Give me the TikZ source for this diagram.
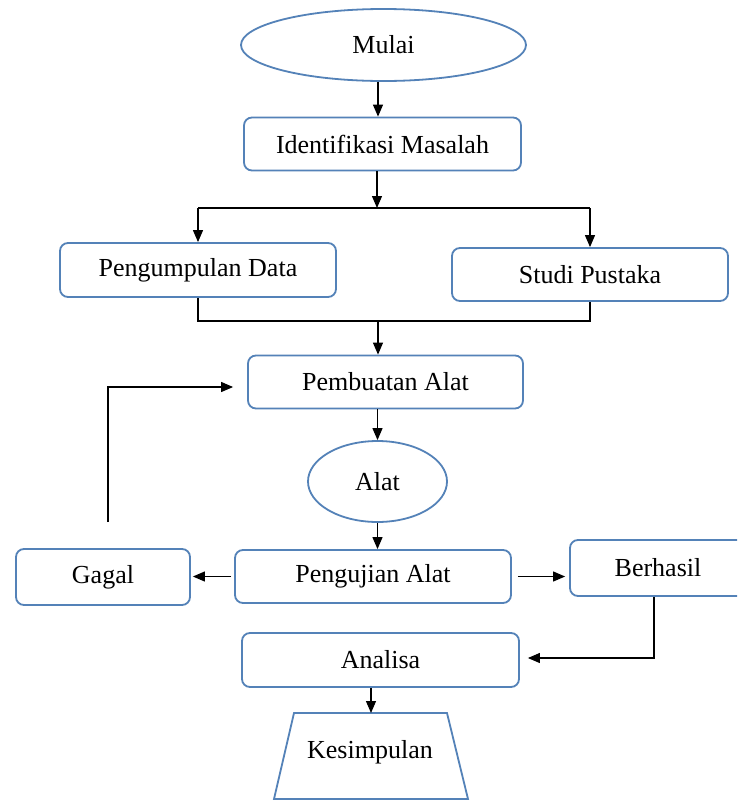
\documentclass[tikz,border=0pt]{standalone}
\usepackage{fontspec}
\setmainfont{Liberation Serif}
\usetikzlibrary{arrows.meta,shapes.geometric}
\definecolor{boxblue}{RGB}{84,130,184}
\begin{document}
\begin{tikzpicture}[x=1pt,y=-1pt,
  txt/.style={font=\fontsize{26}{30}\selectfont},
  box/.style={txt, draw=boxblue, line width=1.8pt, rounded corners=8pt, inner sep=0pt},
  oval/.style={txt, ellipse, draw=boxblue, line width=1.8pt, inner sep=0pt},
  conn/.style={black, line width=1.1pt},
  arr/.style={conn, -{Triangle[length=12pt,width=10pt]}}]
\clip (0,0) rectangle (737,801);
\fill[white] (0,0) rectangle (737,801);
% nodes
\node[oval, minimum width=285pt, minimum height=72pt] (mulai) at (383.5,45) {Mulai};
\node[box, minimum width=277pt, minimum height=53pt] (idm) at (382.5,144) {Identifikasi Masalah};
\node[box, minimum width=276pt, minimum height=54pt] (pd) at (198,270) {Pengumpulan Data};
\node[box, minimum width=276pt, minimum height=53pt] (sp) at (590,274.5) {Studi Pustaka};
\node[box, minimum width=275pt, minimum height=53pt] (pa) at (385.5,382) {Pembuatan Alat};
\node[oval, minimum width=139pt, minimum height=81pt] (alat) at (377.5,481.5) {Alat};
\node[box, minimum width=276pt, minimum height=53pt] (pu) at (373,576.5) {Pengujian Alat};
\node[box, minimum width=174pt, minimum height=56pt] (gagal) at (103,577) {Gagal};
\node[box, minimum width=176pt, minimum height=56pt] (berhasil) at (658,568) {Berhasil};
\node[box, minimum width=277pt, minimum height=54pt] (analisa) at (380.5,660) {Analisa};
\draw[draw=boxblue, line width=1.8pt] (294,713) -- (447,713) -- (468,799) -- (274,799) -- cycle;
\node[txt] (kes) at (370,752) {Kesimpulan};
% coordinates
\coordinate (col) at (378,0);
\coordinate (split) at (377,208);
\coordinate (join) at (378,321);
\coordinate (gturn) at (108,387);
\coordinate (bturn) at (654,658);
\coordinate (kestop) at (371,713);
% connectors
\draw[arr] (mulai.south -| col) -- (idm.north -| col);
\draw[arr] (idm.south -| split) -- (split);
\draw[conn] (pd |- split) -- (sp |- split);
\draw[arr] (pd |- split) -- (pd.north);
\draw[arr] (sp |- split) -- (sp.north);
\draw[conn] (pd.south) -- (pd |- join) -- (sp |- join) -- (sp.south);
\draw[arr] (join) -- (pa.north -| join);
\draw[arr] (pa.south -| alat) -- (alat.north);
\draw[arr] (alat.south) -- (alat.south |- pu.north);
\draw[arr, shorten <=3pt, shorten >=2pt] (pu.west) -- (pu.west -| gagal.east);
\draw[arr, shorten <=6pt, shorten >=4pt] (pu.east) -- (pu.east -| berhasil.west);
\draw[arr, shorten >=8pt] (bturn |- berhasil.south) -- (bturn) -- (analisa.east |- bturn);
\draw[arr, shorten <=26pt, shorten >=14pt] (gagal.north -| gturn) -- (gturn) -- (pa.west |- gturn);
\draw[arr] (analisa.south -| kestop) -- (kestop);
\end{tikzpicture}
\end{document}
